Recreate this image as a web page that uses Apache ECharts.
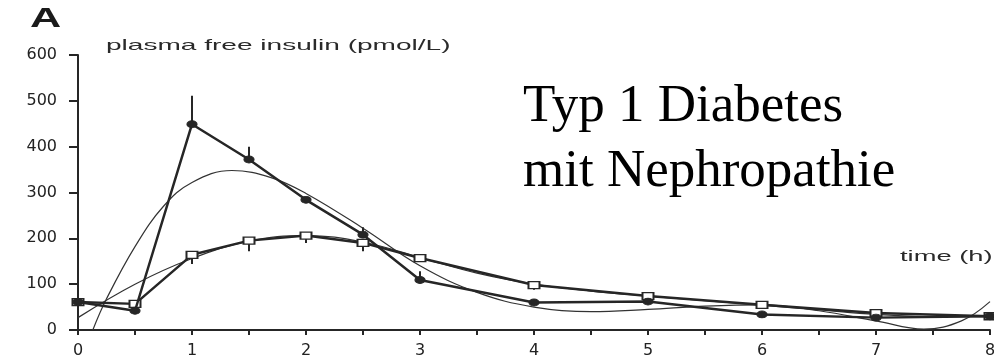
<!DOCTYPE html>
<html>
<head>
<meta charset="utf-8">
<script src="https://cdn.jsdelivr.net/npm/echarts@6/dist/echarts.min.js"></script>
<style>
html,body{margin:0;padding:0;background:#fff;}
#chart{width:994px;height:360px;}
</style>
</head>
<body>
<div id="chart"></div>
<script>
// ---- data ----
const timeH = [0, 0.5, 1, 1.5, 2, 2.5, 3, 4, 5, 6, 7, 8];
const insulinCircle = [61, 42, 449, 372, 284, 208, 109, 60, 62, 34, 27, 30];
const insulinSquare = [61, 57, 164, 195, 206, 190, 157, 98, 74, 55, 37, 30];

// error bars (circle series: upward, square series: downward)
const errCircleT = [1, 1.5, 2.5, 3];
const errCircleHigh = [511, 400, 224, 128];
const errSquareT = [1, 1.5, 2, 2.5, 4];
const errSquareLow = [144, 172, 190, 172, 88];

// thin fitted curves
const fitCircleT = [0.13, 0.25, 0.5, 0.75, 1.0, 1.35, 1.7, 2.0, 2.5, 3.0, 3.5, 4.0, 4.5, 5.0, 5.5, 6.0, 6.5, 7.0, 7.42, 7.75, 8.0];
const fitCircleV = [0, 68, 182, 270, 322, 348, 332, 298, 222, 140, 82, 50, 40, 45, 52, 55, 42, 20, 2, 20, 62];
const fitSquareT = [0, 0.5, 1.0, 1.5, 2.0, 2.5, 3.0, 3.5, 4.0, 4.5, 5.0, 5.5, 6.0, 6.5, 7.0, 7.5, 8.0];
const fitSquareV = [27, 100, 156, 194, 206, 192, 158, 124, 100, 85, 74, 64, 54, 44, 34, 29, 30];

const xTicks = [0, 1, 2, 3, 4, 5, 6, 7, 8];
const yTicks = [0, 100, 200, 300, 400, 500, 600];

// ---- build ----
const zip = (a, b) => a.map((v, i) => [v, b[i]]);
const valueAt = (ts, vs, t) => vs[ts.indexOf(t)];
const errData = errCircleT.map((t, i) => [t, valueAt(timeH, insulinCircle, t), errCircleHigh[i]])
  .concat(errSquareT.map((t, i) => [t, errSquareLow[i], valueAt(timeH, insulinSquare, t)]));

const ink = '#262626';
const chart = echarts.init(document.getElementById('chart'), null, {renderer: 'canvas'});
chart.setOption({
  animation: false,
  backgroundColor: '#ffffff',
  grid: {left: 78, right: 4, top: 55, bottom: 30, containLabel: false, outerBoundsMode: 'none'},
  xAxis: {
    type: 'value', min: xTicks[0], max: xTicks[xTicks.length - 1], interval: 1,
    axisLine: {show: true, lineStyle: {color: ink, width: 2}},
    axisTick: {show: true, length: 5, lineStyle: {color: ink, width: 2}},
    minorTick: {show: true, splitNumber: 2, length: 5, lineStyle: {color: ink, width: 2}},
    splitLine: {show: false},
    axisLabel: {fontSize: 16, fontFamily: 'DejaVu Sans', color: '#222', margin: 13}
  },
  yAxis: {
    type: 'value', min: yTicks[0], max: yTicks[yTicks.length - 1], interval: 100,
    axisLine: {show: true, lineStyle: {color: ink, width: 2}},
    axisTick: {show: true, length: 9, lineStyle: {color: ink, width: 2}},
    splitLine: {show: false},
    axisLabel: {fontSize: 16, fontFamily: 'DejaVu Sans', color: '#222', margin: 21}
  },
  series: [
    {
      type: 'line', name: 'fit circle', data: zip(fitCircleT, fitCircleV), smooth: 0.4,
      showSymbol: false, lineStyle: {color: '#333', width: 1.2}, z: 2
    },
    {
      type: 'line', name: 'fit square', data: zip(fitSquareT, fitSquareV), smooth: 0.4,
      showSymbol: false, lineStyle: {color: '#333', width: 1.2}, z: 2
    },
    {
      type: 'custom', name: 'error bars', data: errData,
      encode: {x: 0, y: [1, 2]},
      renderItem: function (params, api) {
        const p1 = api.coord([api.value(0), api.value(1)]);
        const p2 = api.coord([api.value(0), api.value(2)]);
        return {type: 'line', shape: {x1: p1[0], y1: p1[1], x2: p2[0], y2: p2[1]},
          style: {stroke: ink, lineWidth: 2}};
      }, z: 3
    },
    {
      type: 'line', name: 'square', data: zip(timeH, insulinSquare),
      symbol: 'rect', symbolSize: [11, 7], showAllSymbol: true,
      lineStyle: {color: ink, width: 2.5},
      itemStyle: {color: '#ffffff', borderColor: ink, borderWidth: 1.6}, z: 4
    },
    {
      type: 'line', name: 'circle', data: zip(timeH, insulinCircle),
      symbol: 'circle', symbolSize: [10, 7], showAllSymbol: true,
      lineStyle: {color: ink, width: 2.5},
      itemStyle: {color: ink, borderColor: ink, borderWidth: 1}, z: 5
    }
  ],
  graphic: [
    {type: 'text', x: 30, y: 20, scaleX: 1.6, style: {text: 'A', font: 'bold 27px "Liberation Sans"', fill: '#1a1a1a', align: 'left', verticalAlign: 'middle'}},
    {type: 'text', x: 106, y: 46, scaleX: 1.87, style: {text: 'plasma free insulin (pmol/L)', font: '15px "Liberation Sans"', fill: '#2a2a2a', align: 'left', verticalAlign: 'middle'}},
    {type: 'text', x: 900, y: 257, scaleX: 1.95, style: {text: 'time (h)', font: '14px "Liberation Sans"', fill: '#2a2a2a', align: 'left', verticalAlign: 'middle'}},
    {type: 'text', x: 523, y: 107, style: {text: 'Typ 1 Diabetes', font: '53px "Liberation Serif"', fill: '#000', align: 'left', verticalAlign: 'middle'}},
    {type: 'text', x: 523, y: 172, style: {text: 'mit Nephropathie', font: '53px "Liberation Serif"', fill: '#000', align: 'left', verticalAlign: 'middle'}}
  ]
});
</script>
</body>
</html>
